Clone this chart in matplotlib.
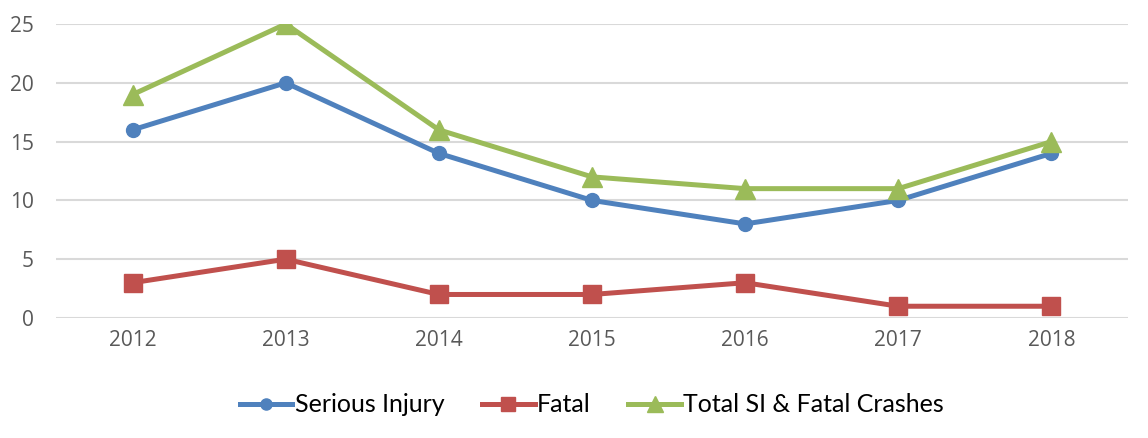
import matplotlib
matplotlib.use("Agg")
import matplotlib.pyplot as plt

years = ["2012", "2013", "2014", "2015", "2016", "2017", "2018"]
serious_injury = [16, 20, 14, 10, 8, 10, 14]
fatal = [3, 5, 2, 2, 3, 1, 1]
total = [19, 25, 16, 12, 11, 11, 15]
yticks = [0, 5, 10, 15, 20, 25]

fig = plt.figure(figsize=(11.48, 4.38), dpi=100)
ax = fig.add_axes([56/1148, 1-318/438, (1128-56)/1148, (318-24)/438])

x = list(range(len(years)))
ax.plot(x, serious_injury, color="#4F81BD", lw=3.6, marker="o", ms=10, label="Serious Injury", zorder=3)
ax.plot(x, fatal, color="#C0504D", lw=3.6, marker="s", ms=13, label="Fatal", zorder=3)
ax.plot(x, total, color="#9BBB59", lw=3.6, marker="^", ms=14, label="Total SI & Fatal Crashes", zorder=3)

ax.set_xlim(-0.5, len(years) - 0.5)
ax.set_ylim(0, 25)
ax.set_yticks(yticks)
ax.set_xticks(x)
ax.set_xticklabels(years)
ax.grid(axis="y", color="#D9D9D9", lw=1.5)
ax.set_axisbelow(True)
for s in ax.spines.values():
    s.set_visible(False)
ax.tick_params(length=0, labelsize=15, labelcolor="#595959", pad=9)
ax.tick_params(axis="y", pad=16)
for lab in ax.get_xticklabels() + ax.get_yticklabels():
    lab.set_family("Open Sans")

leg = ax.legend(loc="center", bbox_to_anchor=(0.5, (1 - 405/438 - (1-318/438)) / ((318-24)/438)),
                ncol=3, frameon=False, prop={"family": "Lato", "size": 18},
                handlelength=2.1, handletextpad=0.1, columnspacing=1.5, markerscale=0.8)

fig.savefig("out.png", dpi=100)
